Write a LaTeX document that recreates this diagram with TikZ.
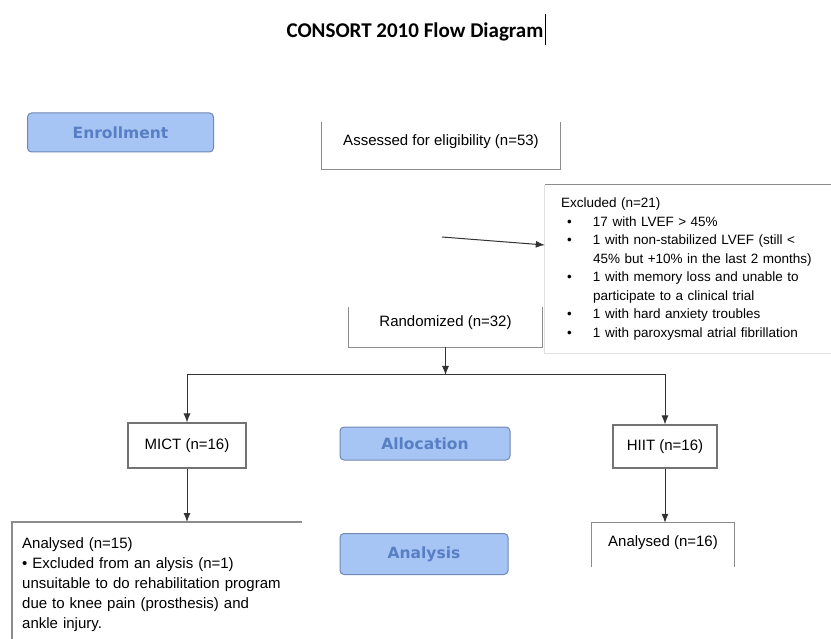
\documentclass[tikz,border=0pt]{standalone}
\usepackage{fontspec}
\setmainfont{Liberation Sans}
\newfontfamily\titlefont{Carlito}
\newfontfamily\labelfont{DejaVu Sans}
\usetikzlibrary{arrows.meta}
\definecolor{labfill}{RGB}{166,196,244}
\definecolor{labtext}{RGB}{88,126,196}
\definecolor{labline}{RGB}{112,136,180}
\newcommand\blt{\makebox[32pt][l]{\hspace{6pt}\textbullet}}
\newcommand\hng{\hspace*{32pt}}

\begin{document}
\begin{tikzpicture}[x=1pt,y=-1pt,
    every node/.style={inner sep=0pt},
    box/.style={font=\fontsize{15}{20}\selectfont},
    side/.style={draw=black!45,line width=1.1pt},
    faint/.style={draw=black!12,line width=1pt},
    phase/.style={rounded corners=4pt,fill=labfill,draw=labline,line width=1pt,text=labtext,
      font=\labelfont\bfseries\fontsize{15.5}{18}\selectfont},
    arr/.style={draw=black!80,line width=1pt,-{Latex[length=9pt,width=7pt]}}]
  \useasboundingbox (0,0) rectangle (831,639);
  \node[font=\titlefont\bfseries\fontsize{21}{24}\selectfont] (title) at (415,32) {CONSORT 2010 Flow Diagram};
  \draw[line width=0.8pt] ([xshift=2pt,yshift=18pt]title.east) -- ([xshift=2pt,yshift=-13pt]title.east);

  \node[phase,minimum width=186pt,minimum height=39pt] (enrol) at (120.5,132.5) {Enrollment};
  \node[box,minimum width=238pt,minimum height=47pt,text depth=11pt] (assess) at (441,145.5) {Assessed for eligibility (n=53)};
  \node[font=\fontsize{13.5}{18.5}\selectfont,text width=254pt,inner xsep=16pt,align=left,
    minimum width=286pt,minimum height=168pt] (excl) at (688,269) {Excluded (n=21)\\
    \blt 17 with LVEF > 45\%\\
    \blt 1 with non-stabilized LVEF (still <\\
    \hng 45\% but +10\% in the last 2 months)\\
    \blt 1 with memory loss and unable to\\
    \hng participate to a clinical trial\\
    \blt 1 with hard anxiety troubles\\
    \blt 1 with paroxysmal atrial fibrillation};
  \node[box,minimum width=193pt,minimum height=40pt,text depth=11pt] (rand) at (445.5,327) {Randomized (n=32)};
  \node[box,draw=black!55,line width=1.1pt,minimum width=118pt,minimum height=45pt] (mict) at (187,445.5) {MICT (n=16)};
  \node[phase,minimum width=170pt,minimum height=33pt] (alloc) at (425,443.5) {Allocation};
  \node[box,draw=black!55,line width=1.1pt,minimum width=104pt,minimum height=43pt] (hiit) at (665,446.5) {HIIT (n=16)};
  \node[phase,minimum width=168pt,minimum height=41pt] (anlys) at (424,554) {Analysis};
  \node[box,minimum width=142pt,minimum height=44pt,text depth=7pt] (anhiit) at (663,545) {Analysed (n=16)};
  \node[box,anchor=north west,text width=270pt,inner xsep=10pt,inner ysep=15pt,align=left] (anmict) at (12,522) {Analysed (n=15)\\
    \textbullet{} Excluded from an alysis (n=1)\\
    unsuitable to do rehabilitation program\\
    due to knee pain (prosthesis) and\\
    ankle injury.};

  % open box sides
  \draw[side] (assess.north west) |- (assess.south east) -- (assess.north east);
  \draw[side] (rand.north west) |- (rand.south east) -- (rand.north east);
  \draw[side] (excl.north west) -- (excl.north east);
  \draw[faint] (excl.north west) |- (excl.south east);
  \draw[side] (anhiit.south west) |- (anhiit.north east) -- (anhiit.south east);
  \draw[side] (anmict.north east) -| (anmict.south west);

  \coordinate (exfrom) at (442,237);
  \coordinate (split) at (445.5,375);
  \draw[arr] (exfrom) -- ([yshift=24pt]excl.west);
  \draw[arr] (rand) -- (split);
  \draw[arr] (split) -| (mict);
  \draw[arr] (split) -| (hiit);
  \draw[arr] (mict) -- (mict |- anmict.north);
  \draw[arr] (hiit) -- (hiit |- anhiit.north);
\end{tikzpicture}
\end{document}
